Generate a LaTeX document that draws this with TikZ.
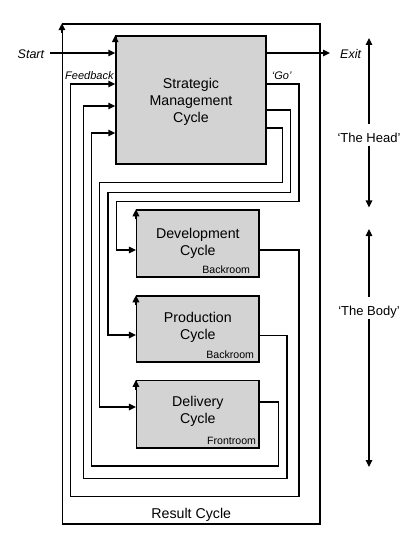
\documentclass[tikz,border=0pt]{standalone}
\usepackage{fontspec}
\setmainfont{Liberation Sans}
\usetikzlibrary{arrows.meta}
\definecolor{boxgray}{RGB}{211,211,211}
\begin{document}
\begin{tikzpicture}[x=1pt,y=-1pt,
  tip/.style={-{Triangle[length=7pt,width=6.5pt]}},
  conn/.style={line width=1.5pt, tip},
  side/.style={line width=1.2pt, tip},
  cyclebox/.style={draw, line width=1.5pt, fill=boxgray, align=center, inner sep=0pt,
    font=\fontsize{14.2}{16.7}\selectfont},
  boxtext/.style={align=center, inner sep=0pt, font=\fontsize{14.2}{16.7}\selectfont},
  outerbox/.style={draw, line width=1.5pt, inner sep=0pt},
  roomlabel/.style={font=\fontsize{10.6}{12}\selectfont, inner sep=0pt, anchor=base east},
  smalllabel/.style={font=\fontsize{11}{13}\selectfont\itshape, inner sep=0pt, anchor=base west},
  endlabel/.style={font=\fontsize{12.5}{14}\selectfont\itshape, inner sep=0pt},
  partlabel/.style={font=\fontsize{13}{15}\selectfont, inner sep=0pt, text depth=0pt, anchor=base},
  biglabel/.style={font=\fontsize{14.2}{16.7}\selectfont, inner sep=0pt, anchor=base}
]
\useasboundingbox (0,0) rectangle (414,545);

% boxes
\node[outerbox, minimum width=257.3pt, minimum height=500pt] (result) at (191.35,274) {};
\node[biglabel] (resultlbl) at (191.3,518.3) {Result Cycle};

\node[cyclebox, minimum width=150pt, minimum height=128pt] (smc) at (191,100) {};
\node[boxtext, yshift=-2pt] (smctxt) at (smc.center) {Strategic\\Management\\Cycle};

\node[cyclebox, minimum width=122.3pt, minimum height=67pt] (dev) at (197.85,243.5) {};
\node[cyclebox, minimum width=122.3pt, minimum height=66pt] (prod) at (197.85,329) {};
\node[cyclebox, minimum width=122.3pt, minimum height=67.3pt] (deliv) at (197.85,414.35) {};
\node[boxtext] (devtxt) at (dev.center) {Development\\Cycle};
\node[boxtext, yshift=1.7pt] (prodtxt) at (prod.center) {Production\\Cycle};
\node[boxtext, yshift=3pt] (delivtxt) at (deliv.center) {Delivery\\Cycle};

\node[roomlabel] (devroom) at ([xshift=-9.5pt,yshift=4pt]dev.south east) {Backroom};
\node[roomlabel] (prodroom) at ([xshift=-5.5pt,yshift=4pt]prod.south east) {Backroom};
\node[roomlabel] (delivroom) at ([xshift=-3.5pt,yshift=4.5pt]deliv.south east) {Frontroom};

% corner arrows
\draw[conn] ([yshift=-10pt]result.north west) -- (result.north west);
\draw[conn] ([yshift=-10pt]smc.north west) -- (smc.north west);
\draw[conn] ([yshift=-10pt]dev.north west) -- (dev.north west);
\draw[conn] ([yshift=-10pt]prod.north west) -- (prod.north west);
\draw[conn] ([yshift=-10pt]deliv.north west) -- (deliv.north west);

% level coordinates
\coordinate (yS) at (0,53);
\coordinate (yA) at (0,84);
\coordinate (yB) at (0,106);
\coordinate (yC) at (0,133);
\coordinate (yR1) at (0,84);
\coordinate (yR2) at (0,110);
\coordinate (yR3) at (0,128);
\coordinate (yDev) at (0,250);
\coordinate (yProdIn) at (0,335);
\coordinate (yProdOut) at (0,335.7);
\coordinate (yDelIn) at (0,407);
\coordinate (yDelOut) at (0,402);

% start / exit
\node[endlabel, anchor=base east] (start) at (44.3,58.3) {Start};
\node[endlabel, anchor=base west] (exit) at (340,58.3) {Exit};
\coordinate (startpt) at (50,53);
\coordinate (exitpt) at (330,53);
\draw[conn] (startpt) -- (smc.west |- yS);
\draw[conn] (smc.east |- yS) -- (exitpt);

% go signals
\coordinate (g1a) at (299,201.3);
\coordinate (g1b) at (116.7,250);
\draw[conn] (smc.east |- yR1) -| (g1a) -| (g1b) -- (dev.west |- yDev);
\coordinate (g2a) at (290.5,192.3);
\coordinate (g2b) at (107.9,335);
\draw[conn] (smc.east |- yR2) -| (g2a) -| (g2b) -- (prod.west |- yProdIn);
\coordinate (g3a) at (282.3,182.7);
\coordinate (g3b) at (99.7,407);
\draw[conn] (smc.east |- yR3) -| (g3a) -| (g3b) -- (deliv.west |- yDelIn);

% feedback
\coordinate (f1a) at (299,496.7);
\coordinate (f1b) at (70.7,84);
\draw[conn] (dev.east |- yDev) -| (f1a) -| (f1b) -- (smc.west |- yA);
\coordinate (f2a) at (287,478.3);
\coordinate (f2b) at (83.3,106);
\draw[conn] (prod.east |- yProdOut) -| (f2a) -| (f2b) -- (smc.west |- yB);
\coordinate (f3a) at (278.7,466);
\coordinate (f3b) at (91.7,133);
\draw[conn] (deliv.east |- yDelOut) -| (f3a) -| (f3b) -- (smc.west |- yC);

\node[smalllabel] (fb) at (65,79.5) {Feedback};
\node[smalllabel] (go) at (271.7,79.5) {‘Go’};

% head / body
\node[partlabel] (head) at (369,142.7) {‘The Head’};
\coordinate (headtop) at (369,38);
\coordinate (headbot) at (369,207.5);
\draw[side] ([yshift=9.4pt]head.north) -- (headtop);
\draw[side] ([yshift=-3.3pt]head.south) -- (headbot);
\node[partlabel] (body) at (369,315) {‘The Body’};
\coordinate (bodytop) at (369,229);
\coordinate (bodybot) at (369,467);
\draw[side] ([yshift=8.4pt]body.north) -- (bodytop);
\draw[side] ([yshift=-3.3pt]body.south) -- (bodybot);
\end{tikzpicture}
\end{document}
